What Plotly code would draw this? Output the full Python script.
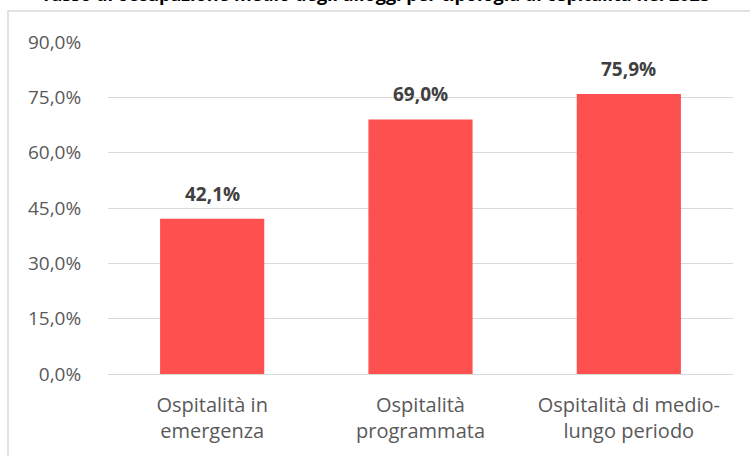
import plotly.graph_objects as go

categories = ["Ospitalità in<br>emergenza", "Ospitalità<br>programmata", "Ospitalità di medio-<br>lungo periodo"]
values = [42.1, 69.0, 75.9]
value_labels = ["42,1%", "69,0%", "75,9%"]
title_text = "Tasso di occupazione medio degli alloggi per tipologia di ospitalità nel 2023"

FONT = "Open Sans, Liberation Sans, sans-serif"

fig = go.Figure()
fig.add_trace(go.Bar(
    x=categories, y=values,
    marker=dict(color="#FF5050", line=dict(width=0)),
    width=0.5,
    hoverinfo="skip",
))
for c, v, t in zip(categories, values, value_labels):
    fig.add_annotation(x=c, y=v, text="<b>" + t + "</b>", showarrow=False,
                       yanchor="middle", yshift=25,
                       font=dict(family=FONT, size=19, color="#404040"))

fig.update_layout(
    width=750, height=456,
    margin=dict(l=108, r=17, t=42, b=82),
    paper_bgcolor="white", plot_bgcolor="white",
    separators=",.",
    showlegend=False,
    bargap=0.5,
    font=dict(family=FONT, color="#595959", size=16),
)
fig.update_yaxes(
    range=[0, 90], dtick=15, tickformat=".1f", ticksuffix="%",
    showgrid=True, gridcolor="#D9D9D9", gridwidth=1,
    zeroline=True, zerolinecolor="#D9D9D9", zerolinewidth=1,
    ticks="outside", ticklen=22, tickcolor="rgba(0,0,0,0)",
    tickfont=dict(size=19, color="#595959"), showline=False,
)
fig.update_xaxes(
    showline=False, showgrid=False,
    ticks="outside", ticklen=13, tickcolor="rgba(0,0,0,0)",
    tickfont=dict(size=20, color="#595959"),
)
# outer chart border
fig.add_shape(type="rect", xref="paper", yref="paper",
              x0=-100/625, x1=1.1, y0=-0.3, y1=1 + 31/332,
              line=dict(color="#D9D9D9", width=1.5), fillcolor="rgba(0,0,0,0)", layer="below")
fig.add_annotation(text="<b>" + title_text + "</b>", xref="paper", yref="paper",
                   x=(375 - 108) / 625, y=1 + 48/332, xanchor="center", yanchor="middle",
                   showarrow=False, font=dict(family=FONT, size=18, color="#000000"))

fig.write_html("out.html", config={"displayModeBar": False},
               post_script="document.body.style.margin='0';")
